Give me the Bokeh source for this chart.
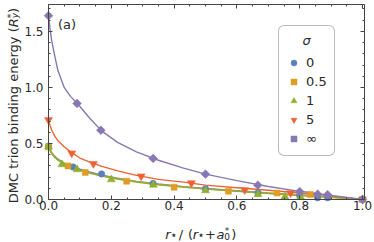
import math
from bokeh.plotting import figure
from bokeh.models import (Range1d, LinearAxis, FixedTicker, PrintfTickFormatter,
                          Legend, LegendItem, Label)
from bokeh.embed import file_html
from bokeh.resources import INLINE

# ---------------- data ----------------
sigma_labels = ["0", "0.5", "1", "5", "\u221e"]
colors = ["#5E81B5", "#E09C24", "#8FB032", "#EB6235", "#8778B3"]

# DMC points: x = r*/(r*+a0*), y = trion binding energy (Ry*)
x_s0 = [0.0, 0.078, 0.169, 0.333, 0.5, 0.667, 0.8, 0.857, 0.889, 1.0]
y_s0 = [0.475, 0.29, 0.228, 0.142, 0.095, 0.058, 0.033, 0.015, 0.015, 0.0]

x_s05 = [0.0, 0.062, 0.117, 0.249, 0.40, 0.573, 0.728, 0.834, 1.0]
y_s05 = [0.47, 0.30, 0.241, 0.163, 0.11, 0.074, 0.058, 0.045, 0.0]

x_s1 = [0.0, 0.043, 0.091, 0.2, 0.334, 0.5, 0.667, 0.753, 0.803, 1.0]
y_s1 = [0.47, 0.3125, 0.268, 0.178, 0.13, 0.08, 0.045, 0.024, 0.02, 0.0]

x_s5 = [0.0, 0.074, 0.143, 0.295, 0.455, 0.625, 0.771, 1.0]
y_s5 = [0.71, 0.413, 0.319, 0.208, 0.147, 0.085, 0.058, 0.0]

x_sinf = [0.0, 0.0909, 0.1667, 0.3333, 0.5, 0.6667, 0.8, 0.8571, 0.8889, 1.0]
y_sinf = [1.64, 0.857, 0.618, 0.366, 0.226, 0.128, 0.071, 0.047, 0.043, 0.0]

# fitted curves, read at these x positions
curve_x = [0.0, 0.005, 0.01, 0.02, 0.03, 0.05, 0.07, 0.1, 0.13, 0.17,
           0.22, 0.28, 0.35, 0.43, 0.5, 0.6, 0.7, 0.8, 0.9, 1.0]
curve_s0 = [0.48, 0.445, 0.42, 0.385, 0.36, 0.325, 0.30, 0.27, 0.245, 0.218,
            0.19, 0.162, 0.138, 0.115, 0.098, 0.078, 0.058, 0.04, 0.021, 0.0]
curve_s05 = [0.47, 0.44, 0.415, 0.38, 0.353, 0.318, 0.292, 0.262, 0.238, 0.212,
             0.185, 0.158, 0.134, 0.112, 0.095, 0.075, 0.056, 0.038, 0.02, 0.0]
curve_s1 = [0.47, 0.435, 0.41, 0.375, 0.35, 0.315, 0.29, 0.26, 0.236, 0.21,
            0.183, 0.156, 0.132, 0.11, 0.093, 0.073, 0.054, 0.037, 0.019, 0.0]
curve_s5 = [0.71, 0.66, 0.62, 0.565, 0.525, 0.47, 0.425, 0.37, 0.335, 0.295,
            0.255, 0.215, 0.18, 0.155, 0.128, 0.105, 0.082, 0.058, 0.032, 0.0]
curve_sinf = [1.64, 1.52, 1.42, 1.28, 1.15, 1.0, 0.92, 0.83, 0.73, 0.61,
              0.51, 0.425, 0.35, 0.28, 0.226, 0.168, 0.116, 0.073, 0.037, 0.0]

x_ticks = [0.0, 0.2, 0.4, 0.6, 0.8, 1.0]
x_minor = [round(i * 0.05, 2) for i in range(21)]
y_ticks = [0.0, 0.5, 1.0, 1.5]
y_minor = [round(i * 0.1, 1) for i in range(18)]

# ---------------- layout (canvas pixels) ----------------
W, H = 374, 242
PX_X0, PX_PER_X = 48.0, 314.0     # canvas x of data x=0, pixels per unit
PX_Y0, PX_PER_Y = 199.0, 112.07   # canvas y of data y=0, pixels per unit
X_MAX = (364.0 - PX_X0) / PX_PER_X
Y_MAX = 1.74

def dx(px):
    return (px - PX_X0) / PX_PER_X
def dy(py):
    return (PX_Y0 - py) / PX_PER_Y

FONT = "DejaVu Sans"
FRAME = "#444444"
TXT = "#2a2a2a"

p = figure(width=W, height=H,
           x_range=Range1d(dx(0), dx(W)), y_range=Range1d(dy(H), dy(0)),
           output_backend="svg", toolbar_location=None, min_border=0,
           x_axis_type=None, y_axis_type=None)
p.min_border_left = p.min_border_right = p.min_border_top = p.min_border_bottom = 0
p.grid.visible = False
p.outline_line_color = None
p.background_fill_color = "white"
p.border_fill_color = "white"

def make_axis(ticks, minor, loc, bounds, show_labels, standoff):
    ax = LinearAxis(fixed_location=loc, bounds=bounds)
    ax.ticker = FixedTicker(ticks=ticks, minor_ticks=minor)
    ax.formatter = PrintfTickFormatter(format="%.1f")
    ax.major_tick_in = 4
    ax.major_tick_out = 0
    ax.minor_tick_in = 2
    ax.minor_tick_out = 0
    ax.major_tick_line_color = FRAME
    ax.minor_tick_line_color = FRAME
    ax.axis_line_color = FRAME
    ax.major_label_text_font = FONT
    ax.major_label_text_font_size = "12px"
    ax.major_label_standoff = standoff
    ax.major_label_text_color = TXT if show_labels else None
    return ax

p.add_layout(make_axis(x_ticks, x_minor, 0.0, (0.0, X_MAX), True, 1), "below")
p.add_layout(make_axis(y_ticks, y_minor, 0.0, (0.0, Y_MAX), True, 5), "left")
p.add_layout(make_axis(x_ticks, x_minor, Y_MAX, (0.0, X_MAX), False, 0), "above")
p.add_layout(make_axis(y_ticks, y_minor, X_MAX, (0.0, Y_MAX), False, 0), "right")

# ---------------- curves and points ----------------
curves = [curve_s0, curve_s05, curve_s1, curve_s5, curve_sinf]
for cy, c in zip(curves, colors):
    p.line(curve_x, cy, line_color=c, line_width=1.4)

series = [(x_s0, y_s0), (x_s05, y_s05), (x_s1, y_s1), (x_s5, y_s5), (x_sinf, y_sinf)]
marker_kw = [
    dict(marker="circle", size=6.5),
    dict(marker="square", size=6),
    dict(marker="triangle", size=8),
    dict(marker="inverted_triangle", size=8),
    dict(marker="square", size=6.2, angle=math.pi / 4),
]
renderers = []
for (xs, ys), c, kw in zip(series, colors, marker_kw):
    r = p.scatter(xs, ys, fill_color=c, line_color=c, line_width=0.5, **kw)
    renderers.append(r)

legend = Legend(items=[LegendItem(label=s, renderers=[r]) for s, r in zip(sigma_labels, renderers)],
                location=(278, H - 156), title="\u00a0\u00a0\u00a0\u00a0\u03c3",
                title_text_font=FONT, title_text_font_size="13px", title_text_font_style="italic",
                title_text_color=TXT, title_standoff=5,
                label_text_font=FONT, label_text_font_size="13px", label_text_color=TXT,
                label_standoff=5, label_height=19, glyph_height=19, glyph_width=15,
                spacing=0, padding=7, margin=0,
                border_line_color="#777777", border_line_width=1,
                background_fill_color="white", background_fill_alpha=1.0)
try:
    legend.border_radius = 6
except Exception:
    pass
p.add_layout(legend)

# ---------------- texts ----------------
def lab(x, y, text, size="13px", style="normal", align="center", baseline="alphabetic", angle=0):
    p.add_layout(Label(x=x, y=y, text=text, angle=angle, text_font=FONT, text_font_size=size,
                       text_font_style=style, text_align=align, text_baseline=baseline,
                       text_color=TXT))

lab(dx(66.5), dy(23.5), "(a)", baseline="middle")

# x-axis label: r⋆ / (r⋆ + a0*)
bx = 234.0
lab(dx(167.5), dy(bx), "r", style="italic")
lab(dx(173.2), dy(bx + 0.2), "\u22c6", size="12px")
lab(dx(180.5), dy(bx), "/")
lab(dx(190.0), dy(bx), "(")
lab(dx(194.8), dy(bx), "r", style="italic")
lab(dx(200.4), dy(bx + 0.2), "\u22c6", size="12px")
lab(dx(210.0), dy(bx), "+")
lab(dx(220.0), dy(bx), "a", style="italic")
lab(dx(226.5), dy(bx - 3.1), "*", size="9px")
lab(dx(226.5), dy(bx + 1.6), "0", size="9px")
lab(dx(233.3), dy(bx), ")")

# y-axis label: DMC trion binding energy (Ry*)
A = math.pi / 2
by = 13.0
lab(dx(by), dy(26.8), "DMC trion binding energy (", align="right", angle=A)
lab(dx(by), dy(26.8), "R", style="italic", align="left", angle=A)
lab(dx(by - 2.5), dy(17.8), "*", size="9px", align="left", angle=A)
lab(dx(by + 1.5), dy(17.8), "y", size="9px", style="italic", align="left", angle=A)
lab(dx(by), dy(12.4), ")", align="left", angle=A)

open("out.html", "w").write(file_html(p, INLINE))
